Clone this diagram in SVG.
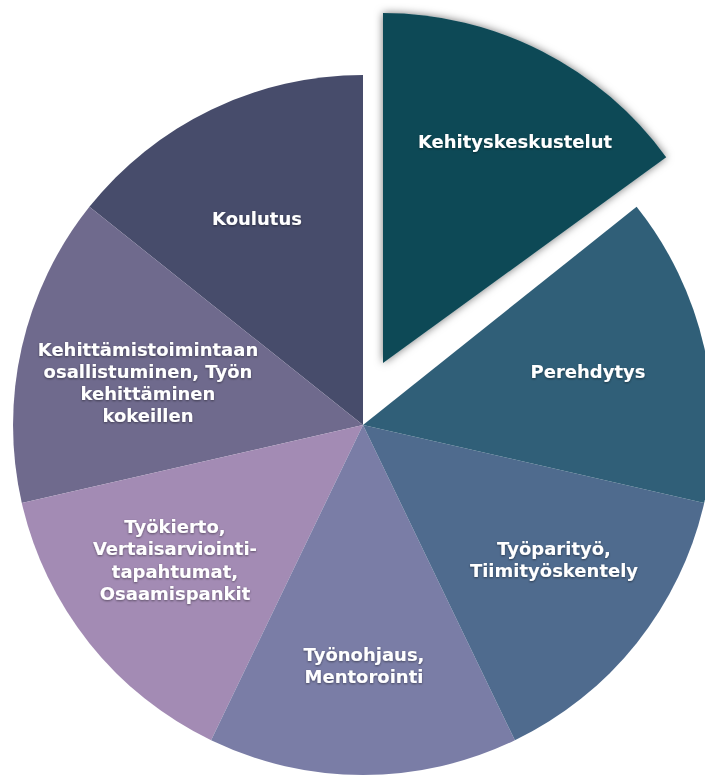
<svg xmlns="http://www.w3.org/2000/svg" width="705" height="776" viewBox="0 0 705 776">
  <defs>
    <filter id="sliceShadow" x="-10%" y="-10%" width="120%" height="120%">
      <feDropShadow dx="0" dy="0" stdDeviation="4" flood-color="#000" flood-opacity="0.55"/>
    </filter>
    <filter id="textShadow" x="-10%" y="-30%" width="120%" height="160%">
      <feDropShadow dx="0" dy="1" stdDeviation="1.2" flood-color="#000" flood-opacity="0.45"/>
    </filter>
  </defs>
  <style>
    .lbl { font-family: "DejaVu Sans", "Open Sans", sans-serif; font-weight: 700; font-size: 18px; fill: #ffffff; text-anchor: middle; filter: url(#textShadow); }
  </style>
  <rect width="705" height="776" fill="#ffffff"/>

  <g id="koulutus">
    <path d="M363,425 L89.4,206.8 A350,350 0 0 1 363,75 Z" fill="#474c6b"/>
    <text class="lbl" x="257" y="225">Koulutus</text>
  </g>

  <g id="kehittamistoimintaan">
    <path d="M363,425 L21.8,502.9 A350,350 0 0 1 89.4,206.8 Z" fill="#6f6a8d"/>
    <text class="lbl" x="148" y="356">Kehittämistoimintaan</text>
    <text class="lbl" x="148" y="378">osallistuminen, Työn</text>
    <text class="lbl" x="148" y="400">kehittäminen</text>
    <text class="lbl" x="148" y="422">kokeillen</text>
  </g>

  <g id="tyokierto">
    <path d="M363,425 L211.1,740.3 A350,350 0 0 1 21.8,502.9 Z" fill="#a38bb4"/>
    <text class="lbl" x="175" y="533">Työkierto,</text>
    <text class="lbl" x="175" y="555">Vertaisarviointi-</text>
    <text class="lbl" x="175" y="578">tapahtumat,</text>
    <text class="lbl" x="175" y="600">Osaamispankit</text>
  </g>

  <g id="tyonohjaus">
    <path d="M363,425 L514.9,740.3 A350,350 0 0 1 211.1,740.3 Z" fill="#7a7da6"/>
    <text class="lbl" x="364" y="661">Työnohjaus,</text>
    <text class="lbl" x="364" y="683">Mentorointi</text>
  </g>

  <g id="tyoparityo">
    <path d="M363,425 L704.2,502.9 A350,350 0 0 1 514.9,740.3 Z" fill="#4f6b8e"/>
    <text class="lbl" x="554" y="555">Työparityö,</text>
    <text class="lbl" x="554" y="577">Tiimityöskentely</text>
  </g>

  <g id="perehdytys">
    <path d="M363,425 L636.6,206.8 A350,350 0 0 1 704.2,502.9 Z" fill="#305f78"/>
    <text class="lbl" x="588" y="378">Perehdytys</text>
  </g>

  <g id="kehityskeskustelut">
    <path d="M383,363 L383,13 A350,350 0 0 1 666.2,157.3 Z" fill="#0f4a57" filter="url(#sliceShadow)"/>
    <text class="lbl" x="515" y="148">Kehityskeskustelut</text>
  </g>

  <g id="connectors"/>
</svg>
